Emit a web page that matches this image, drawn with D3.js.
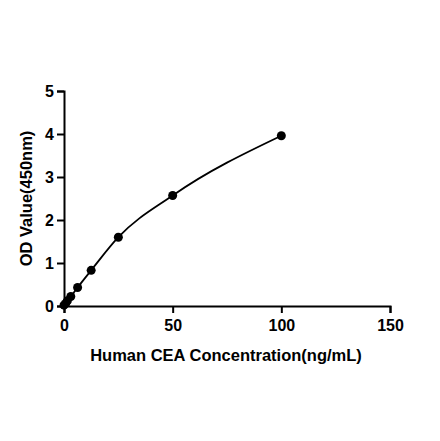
<!DOCTYPE html>
<html><head><meta charset="utf-8">
<script src="https://cdn.jsdelivr.net/npm/d3@7"></script>
<style>body{margin:0;background:#fff}</style>
</head><body><div id="chart"></div>
<script>
// standard curve points
const conc = [0, 0.78, 1.56, 3.125, 6.25, 12.5, 25, 50, 100];
const od = [0.02, 0.06, 0.12, 0.22, 0.43, 0.83, 1.6, 2.57, 3.96];
const xTicks = [0, 50, 100, 150];
const yTicks = [0, 1, 2, 3, 4, 5];

const m = { top: 91, right: 50, bottom: 135, left: 64 },
    width = 440 - m.left - m.right,
    height = 441 - m.top - m.bottom;

const svg = d3.select("#chart").append("svg")
    .attr("width", 440).attr("height", 441)
    .append("g")
    .attr("transform", `translate(${m.left},${m.top})`);

const x = d3.scaleLinear().domain([0, 150]).range([0, 326]);
const y = d3.scaleLinear().domain([0, 5]).range([height, 0]);

const font = "Liberation Sans, Arial, sans-serif";

// minor x ticks every 5
const gx = svg.append("g").attr("transform", `translate(0,${height})`);
gx.call(d3.axisBottom(x).tickValues(d3.range(0, 151, 5)).tickSize(4).tickFormat(""));
gx.call(d3.axisBottom(x).tickValues(xTicks).tickSize(7).tickFormat(d3.format("d")));
gx.selectAll("path.domain").attr("stroke-width", 2);
gx.selectAll("line").attr("stroke-width", 2);
gx.selectAll("text").attr("font-family", font).attr("font-size", 16).attr("font-weight", "bold").attr("dy", "0.95em");

const gy = svg.append("g");
gy.call(d3.axisLeft(y).tickValues(yTicks).tickSize(7).tickFormat(d3.format("d")));
gy.selectAll("path.domain").attr("stroke-width", 2);
gy.selectAll("line").attr("stroke-width", 2);
gy.selectAll("text").attr("font-family", font).attr("font-size", 16).attr("font-weight", "bold");

const pts = conc.map((c, i) => [c, od[i]]);
svg.append("path")
    .datum(pts)
    .attr("fill", "none").attr("stroke", "#000").attr("stroke-width", 1.8)
    .attr("d", d3.line().x(d => x(d[0])).y(d => y(d[1])).curve(d3.curveMonotoneX));

svg.selectAll("circle").data(pts).enter().append("circle")
    .attr("cx", d => x(d[0])).attr("cy", d => y(d[1])).attr("r", 4.5).attr("fill", "#000");

svg.append("text")
    .attr("x", 162).attr("y", height + 55)
    .attr("text-anchor", "middle")
    .attr("font-family", font).attr("font-size", 16.5).attr("font-weight", "bold")
    .text("Human CEA Concentration(ng/mL)");

svg.append("text")
    .attr("transform", `translate(-32,${height / 2}) rotate(-90)`)
    .attr("text-anchor", "middle")
    .attr("font-family", font).attr("font-size", 16.5).attr("font-weight", "bold")
    .text("OD Value(450nm)");
</script></body></html>
